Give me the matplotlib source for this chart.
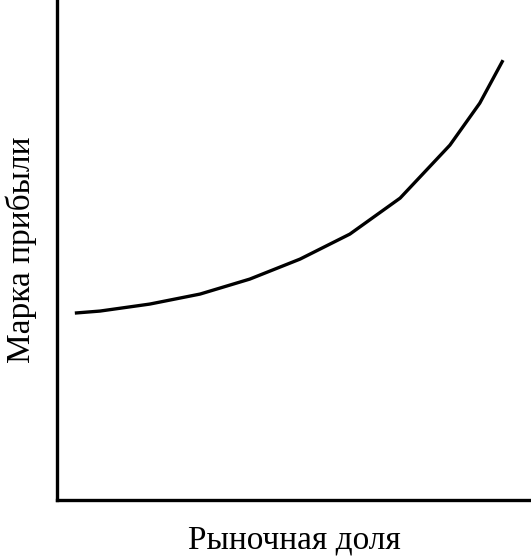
import matplotlib
matplotlib.use("Agg")
import matplotlib.pyplot as plt

# Curve (axis units 0-100)
market_share = [3.8, 9.1, 19.6, 30.2, 40.7, 51.3, 61.8, 72.4, 82.9, 89.2, 94.1]
profit_margin = [37.4, 37.8, 39.2, 41.2, 44.2, 48.2, 53.2, 60.4, 71.0, 79.4, 88.0]

plt.rcParams["font.family"] = ["Liberation Serif", "DejaVu Serif"]

fig = plt.figure(figsize=(5.31, 5.56), dpi=100)
ax = fig.add_axes([0.107, 0.1007, 0.893, 0.899])
ax.plot(market_share, profit_margin, color="black", linewidth=2.4,
        solid_capstyle="butt")
ax.set_xlim(0, 100)
ax.set_ylim(0, 100)
ax.set_xticks([])
ax.set_yticks([])
for side in ("top", "right"):
    ax.spines[side].set_visible(False)
for side in ("left", "bottom"):
    ax.spines[side].set_linewidth(2.4)
ax.set_xlabel("Рыночная доля", fontsize=24, labelpad=18)
ax.set_ylabel("Марка прибыли", fontsize=24, labelpad=14)
fig.savefig("out.png", dpi=100)
